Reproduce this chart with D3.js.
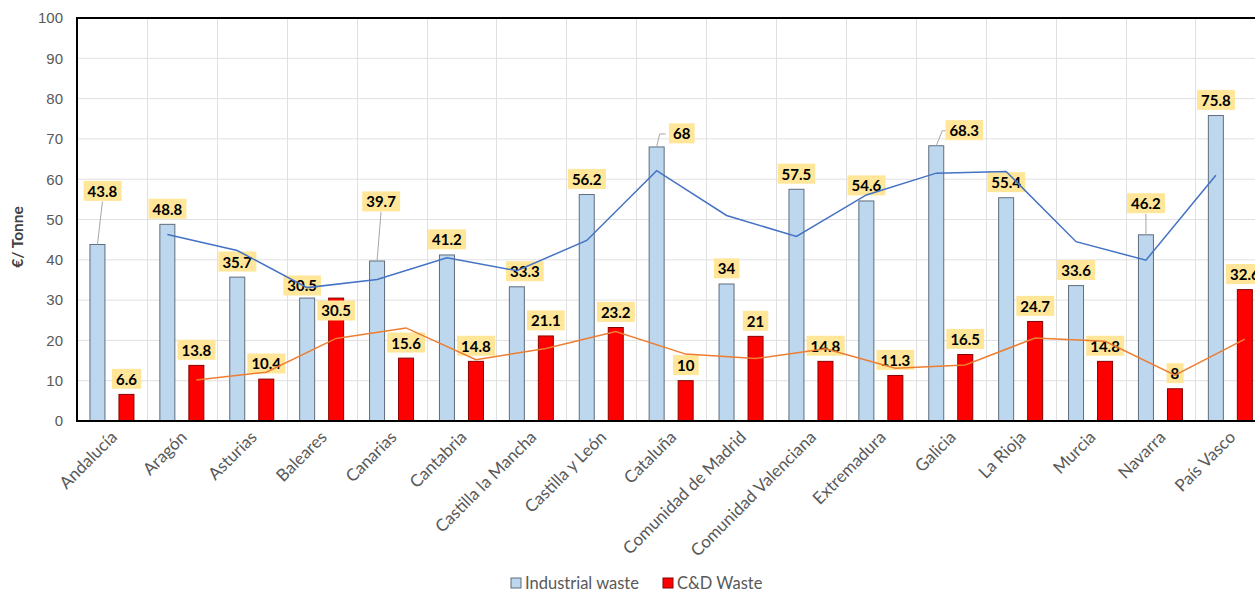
<!DOCTYPE html>
<html>
<head>
<meta charset="utf-8">
<script src="https://cdn.jsdelivr.net/npm/d3@7"></script>
<style>
  body { margin: 0; background: #fff; }
  svg { display: block; font-family: Lato, "Open Sans", sans-serif; }
</style>
</head>
<body>
<div id="chart"></div>
<script>
// data
const regions = ["Andalucía", "Aragón", "Asturias", "Baleares", "Canarias", "Cantabria",
  "Castilla la Mancha", "Castilla y León", "Cataluña", "Comunidad de Madrid",
  "Comunidad Valenciana", "Extremadura", "Galicia", "La Rioja", "Murcia", "Navarra", "País Vasco"];
const industrial = [43.8, 48.8, 35.7, 30.5, 39.7, 41.2, 33.3, 56.2, 68, 34, 57.5, 54.6, 68.3, 55.4, 33.6, 46.2, 75.8];
const cdWaste = [6.6, 13.8, 10.4, 30.5, 15.6, 14.8, 21.1, 23.2, 10, 21, 14.8, 11.3, 16.5, 24.7, 14.8, 8, 32.6];
// trend lines (2 period moving average)
const industrialTrend = [null, 46.3, 42.3, 33.1, 35.1, 40.5, 37.3, 44.8, 62.1, 51, 45.8, 56.1, 61.5, 61.9, 44.5, 39.9, 61];
const cdTrend = [null, 10.2, 12.1, 20.5, 23.1, 15.2, 18, 22.2, 16.6, 15.5, 17.9, 13.1, 13.9, 20.6, 19.8, 11.4, 20.3];
const yTicks = [0, 10, 20, 30, 40, 50, 60, 70, 80, 90, 100];
const seriesNames = ["Industrial waste", "C&D Waste"];

// label nudges (layout only)
const nudge = {
  "ind|Andalucía": { dx: 5, dy: -38, leader: "down" },
  "ind|Canarias": { dx: 4, dy: -44, leader: "down" },
  "ind|Cataluña": { dx: 25, dy: 2, leader: "side" },
  "ind|Galicia": { dx: 28, dy: 0, leader: "side" },
  "ind|Navarra": { dx: 0, dy: -16, leader: "down" },
  "ind|Castilla la Mancha": { dx: 8, dy: 0 },
  "ind|Baleares": { dx: -5, dy: 3 },
  "cd|Baleares": { dx: 0, dy: 28 }
};

const W = 1255, H = 593;
const plotLeft = 77, plotTop = 18, plotBottom = 421;
const step = 69.9;

const svg = d3.select("#chart").append("svg")
  .attr("width", W).attr("height", H);

const x = d3.scaleBand()
  .domain(regions)
  .range([plotLeft, plotLeft + step * regions.length]);

const xSub = d3.scaleBand()
  .domain(["ind", "cd"])
  .range([0, x.bandwidth()])
  .paddingInner(0.483)
  .paddingOuter(0.4466);

const y = d3.scaleLinear().domain([0, 100]).range([plotBottom, plotTop]);

// grid
svg.append("g")
  .selectAll("line")
  .data(yTicks.slice(1, -1))
  .join("line")
    .attr("x1", plotLeft).attr("x2", W)
    .attr("y1", d => y(d)).attr("y2", d => y(d))
    .attr("stroke", "#e0e0e0").attr("stroke-width", 1);

svg.append("g")
  .selectAll("line")
  .data(regions.slice(1))
  .join("line")
    .attr("x1", d => Math.round(x(d)) + 0.5).attr("x2", d => Math.round(x(d)) + 0.5)
    .attr("y1", plotTop).attr("y2", plotBottom)
    .attr("stroke", "#e0e0e0").attr("stroke-width", 1);

// y axis
const yAxis = svg.append("g")
  .attr("transform", `translate(${plotLeft},0)`)
  .call(d3.axisLeft(y).tickValues(yTicks).tickSize(0).tickPadding(14));
yAxis.select(".domain").remove();
yAxis.selectAll("text")
  .attr("fill", "#595959").style("font-size", "15px");

svg.append("text")
  .attr("transform", `translate(23,237) rotate(-90)`)
  .attr("text-anchor", "middle")
  .attr("fill", "#404040")
  .style("font-size", "15.5px").style("font-weight", "bold")
  .text("€/ Tonne");

// bars
const groups = svg.append("g")
  .selectAll("g")
  .data(regions.map((r, i) => ({ region: r, ind: industrial[i], cd: cdWaste[i] })))
  .join("g")
    .attr("transform", d => `translate(${x(d.region)},0)`);

groups.selectAll("rect")
  .data(d => ["ind", "cd"].map(k => ({ key: k, value: d[k] })))
  .join("rect")
    .attr("x", d => xSub(d.key))
    .attr("y", d => y(d.value))
    .attr("width", xSub.bandwidth())
    .attr("height", d => plotBottom - y(d.value))
    .attr("fill", d => d.key === "ind" ? "#bdd7ee" : "#ff0000")
    .attr("stroke", d => d.key === "ind" ? "#5f6d7c" : "#8a0000")
    .attr("stroke-width", 1);

// data labels
const labels = [];
regions.forEach((r, i) => {
  [["ind", industrial[i]], ["cd", cdWaste[i]]].forEach(([k, v]) => {
    const cx = x(r) + xSub(k) + xSub.bandwidth() / 2;
    const n = nudge[k + "|" + r] || { dx: 0, dy: 0 };
    labels.push({ key: k, value: v, barX: cx, barY: y(v),
      cx: cx + n.dx, cy: y(v) - 15 + n.dy, leader: n.leader });
  });
});

const lab = svg.append("g").selectAll("g")
  .data(labels)
  .join("g");

lab.filter(d => d.leader).append("polyline")
  .attr("fill", "none").attr("stroke", "#a6a6a6").attr("stroke-width", 1)
  .attr("points", d => {
    if (d.leader === "down") return `${d.cx},${d.cy + 10} ${d.barX},${d.barY}`;
    return `${d.barX},${d.barY} ${d.cx - 22},${d.cy} ${d.cx - 16},${d.cy}`;
  });

lab.append("text")
  .attr("x", d => d.cx).attr("y", d => d.cy)
  .attr("dy", "0.36em")
  .attr("text-anchor", "middle")
  .attr("fill", "#000")
  .style("font-size", "15px").style("font-weight", "bold")
  .text(d => d.value);

lab.each(function () {
  const g = d3.select(this);
  const b = g.select("text").node().getBBox();
  g.insert("rect", "text")
    .attr("x", b.x - 4).attr("y", b.y - 1)
    .attr("width", b.width + 8).attr("height", b.height + 2)
    .attr("fill", "#ffe699");
});

// trend lines
const line = d3.line()
  .defined(d => d.v != null)
  .x(d => d.x).y(d => y(d.v));

svg.append("path")
  .datum(regions.map((r, i) => ({ x: x(r) + xSub("ind") + xSub.bandwidth() / 2, v: industrialTrend[i] })))
  .attr("fill", "none").attr("stroke", "#4472c4").attr("stroke-width", 1.5)
  .attr("d", line);

svg.append("path")
  .datum(regions.map((r, i) => ({ x: x(r) + xSub("cd") + xSub.bandwidth() / 2, v: cdTrend[i] })))
  .attr("fill", "none").attr("stroke", "#ed7d31").attr("stroke-width", 1.5)
  .attr("d", line);

// frame
svg.append("line").attr("x1", plotLeft).attr("x2", W).attr("y1", plotTop).attr("y2", plotTop)
  .attr("stroke", "#000").attr("stroke-width", 2);
svg.append("line").attr("x1", plotLeft).attr("x2", plotLeft).attr("y1", plotTop - 1).attr("y2", plotBottom + 1)
  .attr("stroke", "#000").attr("stroke-width", 2);
svg.append("line").attr("x1", plotLeft).attr("x2", W).attr("y1", plotBottom).attr("y2", plotBottom)
  .attr("stroke", "#000").attr("stroke-width", 2);

// x labels
svg.append("g").selectAll("text")
  .data(regions)
  .join("text")
    .attr("transform", d => `translate(${x(d) + x.bandwidth() / 2 + 2},434) rotate(-45)`)
    .attr("text-anchor", "end")
    .attr("dy", "0.35em")
    .attr("fill", "#595959")
    .style("font-size", "17px")
    .text(d => d);

// legend
const legend = svg.append("g").attr("transform", "translate(511,583)");
const lx = [0, 152];
seriesNames.forEach((name, i) => {
  legend.append("rect")
    .attr("x", lx[i]).attr("y", -5).attr("width", 10).attr("height", 10)
    .attr("fill", i === 0 ? "#bdd7ee" : "#ff0000")
    .attr("stroke", i === 0 ? "#5f6d7c" : "#8a0000");
  legend.append("text")
    .attr("x", lx[i] + 14).attr("dy", "0.35em")
    .attr("fill", "#595959").style("font-size", "16.5px")
    .text(name);
});
</script>
</body>
</html>
